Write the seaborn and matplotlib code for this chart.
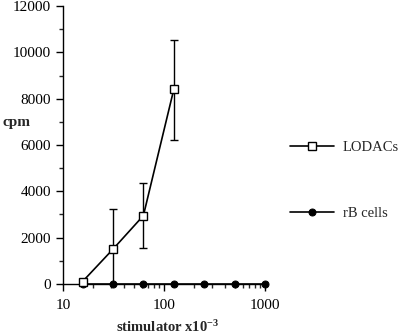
import matplotlib
matplotlib.use("Agg")
import matplotlib.pyplot as plt
import seaborn as sns
import pandas as pd
import numpy as np
from matplotlib.ticker import MultipleLocator, LogLocator, FixedLocator

sns.set_style("ticks")
plt.rcParams['font.family'] = ['Liberation Serif', 'DejaVu Serif']
plt.rcParams['mathtext.default'] = 'regular'

lod_x = [15.6, 31.25, 62.5, 125]
lod_y = [100, 1500, 2950, 8400]
lod_lo = [100, 1500, 1400, 2200]
lod_hi = [100, 1750, 1400, 2150]

rb_x = [15.6, 31.25, 62.5, 125, 250, 500, 1000]
rb_y = [0, 0, 0, 0, 0, 0, 0]

df_lod = pd.DataFrame({"x": lod_x, "y": lod_y})
df_rb = pd.DataFrame({"x": rb_x, "y": rb_y})

fig = plt.figure(figsize=(4.0, 3.36), dpi=100)
ax = fig.add_axes([0.1575, 0.155, 0.505, 0.827])

ax.errorbar(lod_x, lod_y, yerr=[lod_lo, lod_hi], fmt='none', ecolor='black',
            elinewidth=1, capsize=3, capthick=1, zorder=2)
sns.lineplot(data=df_rb, x="x", y="y", ax=ax, color='black', marker='o',
             markersize=5, markerfacecolor='black', markeredgecolor='black',
             linewidth=1.2, label='rB cells', zorder=3, clip_on=False)
sns.lineplot(data=df_lod, x="x", y="y", ax=ax, color='black', marker='s',
             markersize=5.5, markerfacecolor='white', markeredgecolor='black',
             markeredgewidth=1, linewidth=1.2, label='LODACs', zorder=4, clip_on=False)

ax.set_xscale('log')
ax.set_xlim(10, 1000)
ax.set_ylim(0, 12000)
ax.yaxis.set_major_locator(MultipleLocator(2000))
ax.yaxis.set_minor_locator(MultipleLocator(1000))
ax.xaxis.set_major_locator(FixedLocator([10, 100, 1000]))
ax.xaxis.set_minor_locator(LogLocator(base=10, subs=np.arange(2, 10)))
ax.set_xticklabels(['10', '100', '1000'])

for s in ['top', 'right']:
    ax.spines[s].set_visible(False)
for s in ['left', 'bottom']:
    ax.spines[s].set_linewidth(1)
    ax.spines[s].set_color('black')
ax.tick_params(axis='both', which='major', direction='out', length=5, width=1,
               labelsize=11, colors='black')
ax.tick_params(axis='x', which='major', pad=6)
ax.tick_params(axis='both', which='minor', direction='out', length=3, width=1)

ax.set_xlabel('stimulator x10$^{-3}$', fontsize=10.5, fontweight='bold')
ax.xaxis.set_label_coords(0.52, -0.128)
ax.set_ylabel('cpm', fontsize=11, fontweight='bold', rotation=0,
              ha='left', va='center')
ax.yaxis.set_label_coords(-0.30, 0.58)

handles, labels = ax.get_legend_handles_labels()
order = [labels.index('LODACs'), labels.index('rB cells')]
ax.legend([handles[i] for i in order], [labels[i] for i in order],
          loc='center left', bbox_to_anchor=(1.06, 0.372), frameon=False,
          fontsize=10.5, handlelength=3.0, labelspacing=3.65, handletextpad=0.6)

fig.savefig('out.png', dpi=100)
